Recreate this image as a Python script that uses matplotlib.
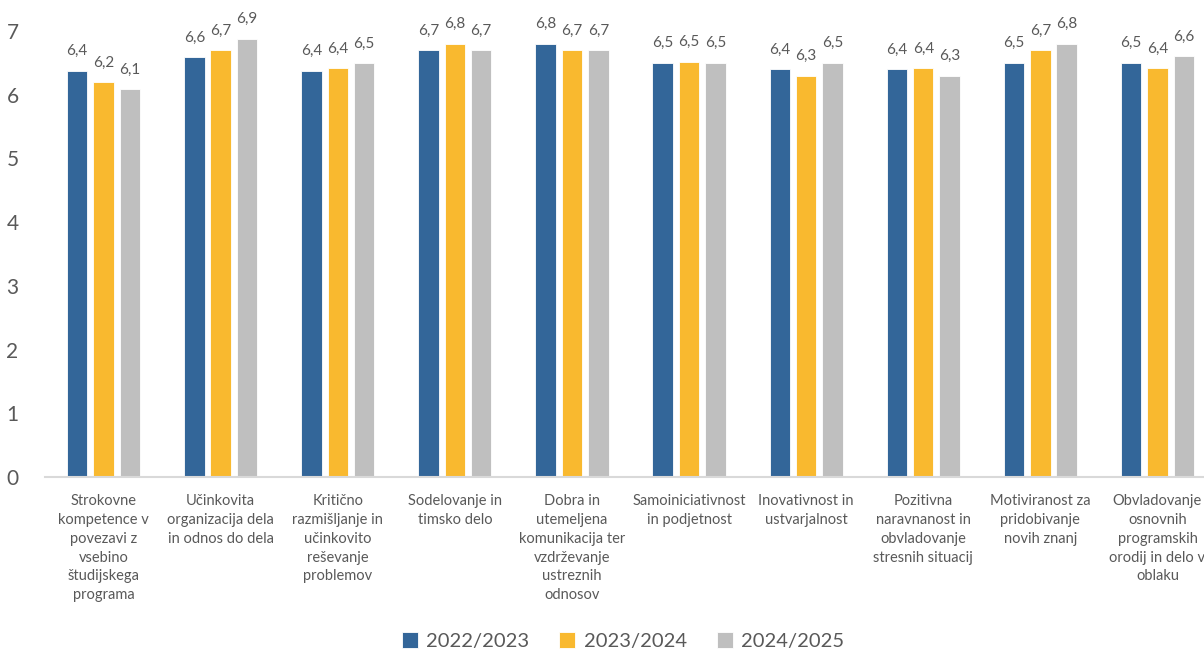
import matplotlib.pyplot as plt
import numpy as np

categories = [
    "Strokovne\nkompetence v\npovezavi z\nvsebino\nštudijskega\nprograma",
    "Učinkovita\norganizacija dela\nin odnos do dela",
    "Kritično\nrazmišljanje in\nučinkovito\nreševanje\nproblemov",
    "Sodelovanje in\ntimsko delo",
    "Dobra in\nutemeljena\nkomunikacija ter\nvzdrževanje\nustreznih\nodnosov",
    "Samoiniciativnost\nin podjetnost",
    "Inovativnost in\nustvarjalnost",
    "Pozitivna\nnaravnanost in\nobvladovanje\nstresnih situacij",
    "Motiviranost za\npridobivanje\nnovih znanj",
    "Obvladovanje\nosnovnih\nprogramskih\norodij in delo v\noblaku",
]
series_names = ["2022/2023", "2023/2024", "2024/2025"]
y2022 = [6.38, 6.59, 6.38, 6.70, 6.80, 6.50, 6.40, 6.40, 6.50, 6.50]
y2023 = [6.20, 6.70, 6.42, 6.80, 6.70, 6.52, 6.30, 6.42, 6.70, 6.42]
y2024 = [6.09, 6.88, 6.49, 6.70, 6.70, 6.50, 6.50, 6.30, 6.80, 6.60]
colors = ["#336699", "#F9B92F", "#BFBFBF"]
text_color = "#595959"

plt.rcParams["font.family"] = ["Lato", "DejaVu Sans"]

fig = plt.figure(figsize=(12.04, 6.52), dpi=100)
# plot area runs past the right edge, as in the cropped original
ax = fig.add_axes([45 / 1204, 1 - 477 / 652, (1216 - 45) / 1204, (477 - 31) / 652])

x = np.arange(len(categories))
width = 0.175
step = 0.225
for i, (vals, name) in enumerate(zip([y2022, y2023, y2024], series_names)):
    pos = x + (i - 1) * step
    bars = ax.bar(pos, vals, width, color=colors[i], label=name,
                  edgecolor="white", linewidth=0.6)
    for b, v in zip(bars, vals):
        ax.annotate(f"{v:.1f}".replace(".", ","),
                    (b.get_x() + b.get_width() / 2, b.get_height()),
                    xytext=(0, 9), textcoords="offset points",
                    ha="center", va="bottom", fontsize=11, color=text_color)

ax.set_xlim(-0.5, len(categories) - 0.5)
ax.set_ylim(0, 7)
ax.set_yticks(range(0, 8))
ax.tick_params(axis="y", length=0, labelsize=15, labelcolor=text_color, pad=19)
ax.set_xticks(x)
ax.set_xticklabels(categories, fontsize=10.5, color=text_color, linespacing=1.45, va="top")
ax.tick_params(axis="x", length=0, pad=12)
for s in ["top", "right", "left"]:
    ax.spines[s].set_visible(False)
ax.spines["bottom"].set_color("#D9D9D9")
ax.spines["bottom"].set_linewidth(1.5)

fig.legend(loc="center", bbox_to_anchor=(623 / 1204, 1 - 641 / 652), ncol=3,
           frameon=False, fontsize=14.5, labelcolor=text_color,
           handlelength=0.8, handleheight=0.8, handletextpad=0.4, columnspacing=1.5)

plt.savefig("out.png", dpi=100)
plt.close()
